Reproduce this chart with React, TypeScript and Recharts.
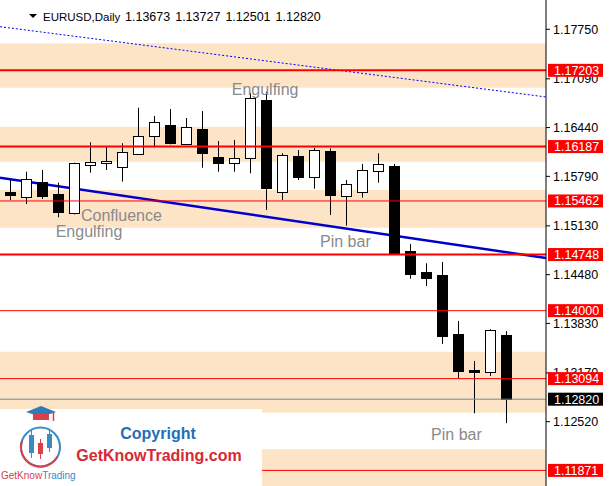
import React from "react";
import {
  ComposedChart,
  Bar,
  XAxis,
  YAxis,
  ReferenceLine,
  ReferenceArea,
  ReferenceDot,
} from "recharts";

const FONT = "'Liberation Sans', Arial, sans-serif";

// daily EURUSD candles, oldest first
const opens = [1.15582, 1.15519, 1.15711, 1.15555, 1.15298, 1.15937, 1.15964, 1.15911, 1.16092, 1.16324, 1.16471, 1.16225, 1.16421, 1.16048, 1.15964, 1.16031, 1.16808, 1.15578, 1.16057, 1.15785, 1.16128, 1.15524, 1.15578, 1.15857, 1.15928, 1.14795, 1.14515, 1.14475, 1.13689, 1.13209, 1.13186, 1.13673];
const highs = [1.15741, 1.15852, 1.15875, 1.15706, 1.15972, 1.16244, 1.16185, 1.16231, 1.16705, 1.16595, 1.16688, 1.16568, 1.16661, 1.16261, 1.16275, 1.16901, 1.16918, 1.16097, 1.16141, 1.16172, 1.16164, 1.15741, 1.15955, 1.16097, 1.15955, 1.14888, 1.14631, 1.14649, 1.13862, 1.13329, 1.13752, 1.13727];
const lows = [1.15475, 1.15422, 1.15488, 1.15244, 1.15284, 1.15839, 1.15875, 1.15719, 1.16081, 1.16177, 1.16217, 1.16208, 1.15905, 1.15852, 1.15852, 1.15831, 1.15342, 1.15475, 1.15741, 1.15625, 1.15275, 1.15132, 1.15506, 1.15706, 1.14755, 1.14426, 1.14329, 1.13556, 1.13099, 1.12632, 1.13129, 1.12501];
const closes = [1.15538, 1.15751, 1.15532, 1.15311, 1.15964, 1.15977, 1.15991, 1.16111, 1.16324, 1.16511, 1.16239, 1.16444, 1.16105, 1.15964, 1.16031, 1.16830, 1.15639, 1.16071, 1.15785, 1.16141, 1.15545, 1.15684, 1.15875, 1.15951, 1.14764, 1.14493, 1.14439, 1.13666, 1.13200, 1.13186, 1.13738, 1.12820];

const priceTicks = [1.1775, 1.1709, 1.1644, 1.1579, 1.1513, 1.1448, 1.1383, 1.1317, 1.1252];
const yDomain = [1.11663, 1.181405];
const xDomain = [-0.58, 33.54];

// supply / demand zones
const zoneTops = [1.17563, 1.16452, 1.15608, 1.13453, 1.12152];
const zoneBottoms = [1.16972, 1.15985, 1.15106, 1.1264, 1.11663];

// horizontal levels
const levels = [1.17203, 1.16187, 1.15462, 1.14748, 1.14, 1.13094, 1.11871];
const levelWidths = [2, 2, 1, 2, 1, 1, 1];
const lastClose = 1.1282;

// trend lines [x1, y1, x2, y2]
const trendLine = [-0.58, 1.15772, 33.54, 1.14702];
const channelLine = [-0.58, 1.17785, 33.54, 1.16848];

const notes = [
  { text: "Engulfing", i: 13.9, price: 1.16874 },
  { text: "Confluence", i: 4.48, price: 1.15199 },
  { text: "Engulfing", i: 2.9, price: 1.14978 },
  { text: "Pin bar", i: 19.42, price: 1.14844 },
  { text: "Pin bar", i: 26.36, price: 1.12276 },
];

const candles = opens.map((open, i) => ({
  i,
  open,
  high: highs[i],
  low: lows[i],
  close: closes[i],
  range: [lows[i], highs[i]],
}));

const Candle = (props: any) => {
  const { x, y, width, height, payload } = props;
  if (!payload) return null;
  const { open, close, high, low } = payload;
  const cx = Math.round(x + width / 2) + 0.5;
  const py = (v: number) => y + ((high - v) / (high - low)) * height;
  const top = Math.round(py(Math.max(open, close))) + 0.5;
  const bot = Math.round(py(Math.min(open, close))) + 0.5;
  const up = close >= open;
  return (
    <g>
      <line x1={cx} x2={cx} y1={y} y2={y + height} stroke="#000" strokeWidth={1} />
      <rect
        x={cx - 5}
        y={top}
        width={10}
        height={Math.max(bot - top, 1)}
        fill={up ? "#fff" : "#000"}
        stroke="#000"
        strokeWidth={1}
      />
    </g>
  );
};

const PriceTag = (props: any) => {
  const { viewBox, value, bg } = props;
  const vb = viewBox || { x: 0, y: 0, width: 546 };
  const left = vb.x + vb.width + 2;
  return (
    <g>
      <rect x={left} y={vb.y - 6.5} width={55} height={13} fill={bg} />
      <text
        x={left + 6}
        y={vb.y + 4.5}
        fill="#fff"
        fontSize={12.5}
        fontFamily={FONT}
      >
        {value.toFixed(5)}
      </text>
    </g>
  );
};

const Note = (props: any) => (
  <text
    x={props.cx}
    y={props.cy}
    fill="#8a8a8a"
    fontSize={16}
    fontFamily={FONT}
  >
    {props.text}
  </text>
);

const Logo = () => (
  <svg
    width={609}
    height={486}
    style={{ position: "absolute", left: 0, top: 0, pointerEvents: "none" }}
  >
    <polygon points="29,14 37,14 33,18" fill="#000" />
    <text x={43} y={21} fontSize={11.5} fontFamily={FONT} fill="#000">
      EURUSD,Daily
    </text>
    {["1.13673", "1.13727", "1.12501", "1.12820"].map((t, k) => (
      <text key={k} x={125 + k * 50.2} y={21} fontSize={12.5} fontFamily={FONT} fill="#000">
        {t}
      </text>
    ))}

    <rect x={0} y={409} width={262} height={77} fill="#fff" />
    <circle cx={40.5} cy={447} r={19.5} fill="none" stroke="#3b8ac4" strokeWidth={2} />
    <path d="M 57.4 456.8 A 19.5 19.5 0 0 1 22.2 440.3" fill="none" stroke="#d9404a" strokeWidth={2} />
    <polygon points="26,412 41,406 56,412 41,417" fill="#2d7cba" />
    <rect x={33} y={414} width={16} height={6} fill="#d9404a" />
    <line x1={53.5} x2={53.5} y1={412} y2={421} stroke="#d9404a" strokeWidth={1.5} />
    <line x1={31.5} x2={31.5} y1={430} y2={458} stroke="#3b8ac4" />
    <rect x={29} y={435} width={5} height={18} fill="#3b8ac4" />
    <line x1={40.5} x2={40.5} y1={439} y2={459} stroke="#d9404a" />
    <rect x={38} y={443} width={5} height={11} fill="#d9404a" />
    <line x1={49.5} x2={49.5} y1={429} y2={452} stroke="#3b8ac4" />
    <rect x={47} y={434} width={5} height={14} fill="#3b8ac4" />
    <text x={1} y={479} fontSize={10} fontFamily={FONT}>
      <tspan fill="#d9404a">GetKnow</tspan>
      <tspan fill="#3b8ac4">Trading</tspan>
    </text>
    <text x={158} y={439} textAnchor="middle" fontSize={16} fontWeight="bold" fontFamily={FONT} fill="#1f6fb5">
      Copyright
    </text>
    <text x={159} y={461} textAnchor="middle" fontSize={16} fontWeight="bold" fontFamily={FONT} fill="#d42a35">
      GetKnowTrading.com
    </text>
  </svg>
);

// second layer: price tags on the axis, drawn above the tick labels
const TagLayer = () => (
  <div style={{ position: "absolute", left: 0, top: 0, pointerEvents: "none" }}>
    <ComposedChart
      width={609}
      height={486}
      data={candles}
      margin={{ top: 0, right: 63, bottom: 0, left: 0 }}
    >
      <XAxis dataKey="i" type="number" domain={xDomain} allowDataOverflow hide />
      <YAxis domain={yDomain} allowDataOverflow hide />
      <ReferenceLine
        y={lastClose}
        stroke="none"
        label={<PriceTag value={lastClose} bg="#000" />}
      />
      {levels.map((lv) => (
        <ReferenceLine
          key={lv}
          y={lv}
          stroke="none"
          label={<PriceTag value={lv} bg="#ff0000" />}
        />
      ))}
    </ComposedChart>
  </div>
);

export default function App() {
  return (
    <div style={{ position: "absolute", left: 0, top: 0, width: 609, height: 486, background: "#fff" }}>
      <ComposedChart
        width={609}
        height={486}
        data={candles}
        margin={{ top: 0, right: 0, bottom: 0, left: 0 }}
      >
        <XAxis dataKey="i" type="number" domain={xDomain} allowDataOverflow hide height={0} />
        <YAxis
          orientation="right"
          width={63}
          domain={yDomain}
          allowDataOverflow
          ticks={priceTicks}
          interval={0}
          tickFormatter={(v: number) => v.toFixed(5)}
          tick={{ fill: "#000", fontSize: 12.5, fontFamily: FONT }}
          tickSize={4}
          tickMargin={3}
          axisLine={{ stroke: "#000" }}
          tickLine={{ stroke: "#000" }}
        />
        {zoneTops.map((top, k) => (
          <ReferenceArea
            key={k}
            y1={zoneBottoms[k]}
            y2={top}
            fill="#fde4c6"
            fillOpacity={1}
            stroke="none"
            ifOverflow="hidden"
          />
        ))}
        <ReferenceLine
          segment={[
            { x: channelLine[0], y: channelLine[1] },
            { x: channelLine[2], y: channelLine[3] },
          ]}
          stroke="#0000ff"
          strokeWidth={1}
          strokeDasharray="2 2"
          zIndex={200}
        />
        <ReferenceLine
          segment={[
            { x: trendLine[0], y: trendLine[1] },
            { x: trendLine[2], y: trendLine[3] },
          ]}
          stroke="#0000cd"
          strokeWidth={2.5}
          zIndex={200}
        />
        <Bar dataKey="range" barSize={11} shape={<Candle />} isAnimationActive={false} />
        <ReferenceLine y={lastClose} stroke="#778899" strokeWidth={1} />
        {levels.map((lv, k) => (
          <ReferenceLine
            key={lv}
            y={lv}
            stroke="#ff0000"
            strokeWidth={levelWidths[k]}
          />
        ))}
        {notes.map((n, k) => (
          <ReferenceDot
            key={k}
            x={n.i}
            y={n.price}
            r={0}
            shape={(p: any) => <Note {...p} text={n.text} />}
          />
        ))}
      </ComposedChart>
      <TagLayer />
      <Logo />
    </div>
  );
}
